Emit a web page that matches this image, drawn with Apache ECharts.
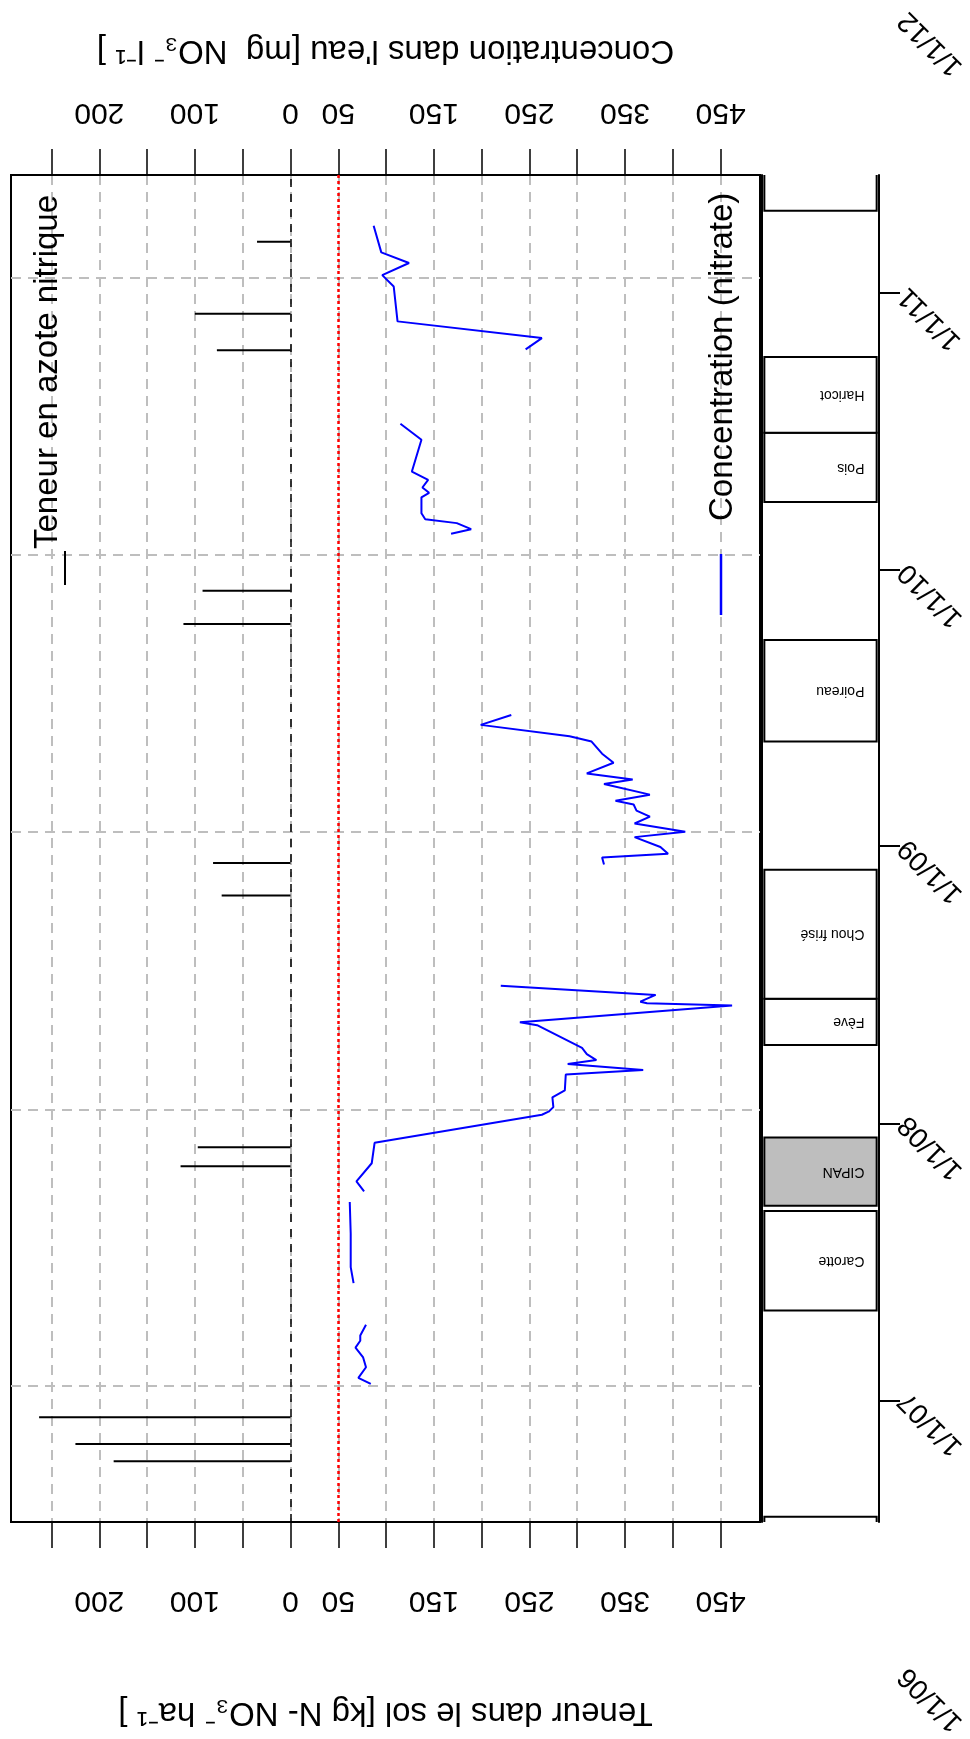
<!DOCTYPE html>
<html>
<head>
<meta charset="utf-8">
<title>Nitrate : sol et eau de drainage</title>
<script src="https://cdn.jsdelivr.net/npm/echarts@6.0.0/dist/echarts.min.js"></script>
<style>
  html, body { margin: 0; padding: 0; background: #fff; }
  #chart { width: 970px; height: 1739px; }
</style>
</head>
<body>
<div id="chart"></div>
<script>
// ---- Nitrate concentration in drainage water (mg NO3- / l), one pair of arrays per campaign
const concDates1 = ['2007-01-04','2007-01-12','2007-01-26','2007-02-08','2007-02-21','2007-03-02','2007-03-09','2007-03-23'];
const concValues1 = [84, 71, 79, 76, 68, 73, 73, 79];

const concDates2 = ['2007-05-17','2007-06-07','2007-07-21','2007-09-01'];
const concValues2 = [66, 63, 63, 62];

const concDates3 = ['2007-09-15','2007-09-28','2007-10-22','2007-11-18','2007-12-25','2007-12-29','2008-01-04','2008-01-17',
                    '2008-01-26','2008-02-16','2008-02-22','2008-03-01','2008-03-06','2008-03-14','2008-03-22','2008-04-21',
                    '2008-04-25','2008-05-17','2008-05-20','2008-05-22','2008-05-31','2008-06-12'];
const concValues3 = [77, 69, 85, 88, 263, 270, 275, 274,
                     287, 288, 369, 290, 320, 310, 305, 258,
                     240, 462, 373, 366, 382, 220];

const concDates4 = ['2008-11-19','2008-11-28','2008-12-03','2008-12-12','2008-12-25','2009-01-01','2009-01-12','2009-01-21',
                    '2009-01-29','2009-02-06','2009-02-11','2009-02-19','2009-03-05','2009-03-11','2009-03-19','2009-04-02',
                    '2009-04-14','2009-04-30','2009-05-07','2009-05-22','2009-06-04'];
const concValues4 = [328, 326, 395, 387, 360, 413, 360, 376,
                     362, 359, 340, 376, 328, 358, 310, 338,
                     326, 315, 292, 199, 231];

const concDates5 = ['2010-01-29','2010-02-04','2010-02-12','2010-02-17','2010-02-25','2010-03-18','2010-03-24','2010-03-31',
                    '2010-04-10','2010-04-21','2010-06-02','2010-06-23'];
const concValues5 = [168, 189, 174, 141, 137, 137, 145, 138, 144, 127, 137, 115];

const concDates6 = ['2010-09-29','2010-10-14','2010-11-05','2010-12-21','2011-01-05','2011-01-21','2011-02-04','2011-03-11'];
const concValues6 = [246, 263, 112, 108, 96, 124, 95, 87];

// ---- Soil nitrate content (kg N-NO3- / ha)
const soilDates = ['2006-09-24','2006-10-17','2006-11-21','2007-10-18','2007-11-12','2008-10-09',
                   '2008-11-21','2009-10-02','2009-11-15','2010-09-28','2010-11-15','2011-02-18'];
const soilValues = [185, 225, 263, 115, 97, 72, 81, 112, 92, 77, 100, 35];

// ---- Crop succession
const cropNames  = ['', 'Carotte', 'CIPAN', 'Fève', 'Chou frisé', 'Poireau', 'Pois', 'Haricot', ''];
const cropStarts = ['2006-03-01','2007-04-30','2007-09-15','2008-04-14','2008-06-14','2009-05-19','2010-03-31','2010-06-30','2011-04-19'];
const cropEnds   = ['2006-08-01','2007-09-08','2007-12-14','2008-06-14','2008-12-01','2009-09-30','2010-06-30','2010-10-08','2011-10-01'];
const cropIsCover = [false, false, true, false, false, false, false, false, false];

// ---- Axes
const valueTicks  = [-250, -200, -150, -100, -50, 0, 50, 100, 150, 200, 250, 300, 350, 400, 450];
const valueLabels = [-200, -100, 0, 50, 150, 250, 350, 450];
const yearTicks   = ['2007-01-01','2008-01-01','2009-01-01','2010-01-01','2011-01-01'];
const yearLabels  = ['2006-01-01','2007-01-01','2008-01-01','2009-01-01','2010-01-01','2011-01-01','2012-01-01'];
const valueMin = -292.4, valueMax = 491.2;
const plotStart = '2006-07-06', plotEnd = '2011-05-17';
const stripStart = '2006-07-25', stripEnd = '2011-06-05';
const guideLevel = 50;

const FONT = '"Liberation Sans", Arial, sans-serif';
const GRID_GRAY = '#bebebe';

// dates are handled as local-time millisecond values on plain value axes
const t = s => { const p = s.split('-').map(Number); return new Date(p[0], p[1] - 1, p[2]).getTime(); };
const fmtDate = v => { const d = new Date(v); return (d.getMonth() + 1) + '/' + d.getDate() + '/' + String(d.getFullYear()).slice(2); };

const campaigns = [
  [concDates1, concValues1], [concDates2, concValues2], [concDates3, concValues3],
  [concDates4, concValues4], [concDates5, concValues5], [concDates6, concValues6]
];

const lineSeries = campaigns.map(([dates, vals], k) => {
  const s = {
    type: 'line',
    xAxisIndex: 0, yAxisIndex: 0,
    data: dates.map((d, i) => [vals[i], t(d)]),
    showSymbol: false, symbol: 'none',
    lineStyle: { color: '#0000ff', width: 2 },
    z: 4, silent: true
  };
  if (k === 0) {
    // zero reference and the 50 mg/l guide
    s.markLine = {
      silent: true, symbol: 'none', label: { show: false }, z: 2,
      data: [
        { xAxis: 0, lineStyle: { color: '#000', type: [8, 7], width: 1.5 } },
        { xAxis: guideLevel, lineStyle: { color: '#ff0000', type: [3, 3], width: 2.5 } }
      ]
    };
  }
  return s;
});

const valueAxisBase = {
  gridIndex: 0, type: 'value', min: valueMin, max: valueMax,
  axisLine: { show: true, lineStyle: { color: '#000', width: 2 } },
  axisTick: { show: true, customValues: valueTicks, length: 26, lineStyle: { color: '#000', width: 1.5 } },
  axisLabel: {
    customValues: valueLabels, formatter: v => String(Math.abs(v)),
    rotate: 180, fontSize: 30, color: '#000', fontFamily: FONT
  },
  nameLocation: 'middle', nameRotate: 180,
  nameTextStyle: { fontSize: 33, color: '#000', fontFamily: FONT }
};

const hiddenParts = { axisLine: { show: false }, axisTick: { show: false }, axisLabel: { show: false }, splitLine: { show: false } };

const option = {
  animation: false,
  backgroundColor: '#fff',
  grid: [
    { left: 11, top: 175, width: 749, height: 1347, show: true, borderColor: '#000', borderWidth: 2, backgroundColor: 'transparent' },
    { left: 762, top: 175, width: 117, height: 1347 },
    { left: 762, top: 16.2, width: 117, height: 1661.6 }
  ],
  xAxis: [
    Object.assign({}, valueAxisBase, {
      position: 'top',
      axisLabel: Object.assign({}, valueAxisBase.axisLabel, { margin: 48 }),
      splitLine: { show: true, lineStyle: { color: GRID_GRAY, type: [10, 7], width: 2 } },
      name: "Concentration dans l'eau [mg  NO\u2083\u207B l\u207B\u00B9 ]",
      nameGap: 108
    }),
    Object.assign({}, valueAxisBase, {
      position: 'bottom',
      axisLabel: Object.assign({}, valueAxisBase.axisLabel, { margin: 63 }),
      splitLine: { show: false },
      name: 'Teneur dans le sol [kg N- NO\u2083\u207B ha\u207B\u00B9 ]',
      nameGap: 174
    }),
    Object.assign({ gridIndex: 1, type: 'value', min: 0, max: 1 }, hiddenParts),
    Object.assign({ gridIndex: 2, type: 'value', min: 0, max: 1 }, hiddenParts)
  ],
  yAxis: [
    {
      gridIndex: 0, type: 'value', min: t(plotStart), max: t(plotEnd),
      axisLine: { show: false },
      axisTick: { show: false, customValues: yearTicks.map(t) },
      axisLabel: { show: false },
      splitLine: { show: true, lineStyle: { color: GRID_GRAY, type: [10, 7], width: 2 } }
    },
    {
      gridIndex: 1, type: 'value', position: 'left', min: t(stripStart), max: t(stripEnd),
      axisLine: { show: true, lineStyle: { color: '#000', width: 2 } },
      axisTick: { show: false }, axisLabel: { show: false }, splitLine: { show: false }
    },
    {
      gridIndex: 1, type: 'value', position: 'right', min: t(stripStart), max: t(stripEnd),
      axisLine: { show: true, lineStyle: { color: '#000', width: 2 } },
      axisTick: { show: true, customValues: yearTicks.map(t), length: 21, lineStyle: { color: '#000', width: 2 } },
      axisLabel: { show: false }, splitLine: { show: false }
    },
    {
      gridIndex: 2, type: 'value', position: 'right', min: t(yearLabels[0]), max: t(yearLabels[yearLabels.length - 1]),
      axisLine: { show: false }, axisTick: { show: false }, splitLine: { show: false },
      axisLabel: {
        customValues: yearLabels.map(t), formatter: fmtDate,
        rotate: 135, align: 'right', verticalAlign: 'middle', margin: 24,
        fontSize: 28, color: '#000', fontFamily: FONT
      }
    }
  ],
  series: [
    {
      // soil nitrate: one horizontal stick per sampling date, drawn leftwards from zero
      type: 'custom',
      xAxisIndex: 0, yAxisIndex: 0,
      clip: true, silent: true, z: 3,
      data: soilDates.map((d, i) => [-soilValues[i], t(d)]),
      encode: { x: 0, y: 1 },
      renderItem: (params, api) => {
        const a = api.coord([0, api.value(1)]);
        const b = api.coord([api.value(0), api.value(1)]);
        return {
          type: 'line',
          shape: { x1: a[0], y1: a[1], x2: b[0], y2: b[1] },
          style: { stroke: '#000', lineWidth: 2 }
        };
      }
    },
    ...lineSeries,
    {
      type: 'custom',
      xAxisIndex: 2, yAxisIndex: 2,
      clip: true, silent: true,
      data: cropStarts.map((s, i) => [t(s), t(cropEnds[i]), i]),
      encode: { y: [0, 1] },
      renderItem: (params, api) => {
        const idx = api.value(2);
        const p1 = api.coord([0.02, api.value(1)]);
        const p0 = api.coord([0.98, api.value(0)]);
        const mid = api.coord([0.875, (api.value(0) + api.value(1)) / 2]);
        return {
          type: 'group',
          children: [
            {
              type: 'rect',
              shape: { x: p1[0], y: p1[1], width: p0[0] - p1[0], height: p0[1] - p1[1] },
              style: { fill: cropIsCover[idx] ? '#bebebe' : '#fff', stroke: '#000', lineWidth: 2 }
            },
            {
              type: 'text', x: mid[0], y: mid[1], rotation: Math.PI,
              style: { text: cropNames[idx], fill: '#000', fontSize: 14, fontFamily: FONT, align: 'left', verticalAlign: 'middle' }
            }
          ]
        };
      }
    }
  ],
  graphic: [
    {
      type: 'text', x: 48, y: 549, rotation: Math.PI / 2, z: 100,
      style: { text: 'Teneur en azote nitrique', fill: '#000', fontSize: 33, fontFamily: FONT, align: 'left', verticalAlign: 'middle' }
    },
    { type: 'line', z: 100, shape: { x1: 65, y1: 551, x2: 65, y2: 585 }, style: { stroke: '#000', lineWidth: 2 } },
    {
      type: 'text', x: 723, y: 521, rotation: Math.PI / 2, z: 100,
      style: { text: 'Concentration (nitrate)', fill: '#000', fontSize: 33, fontFamily: FONT, align: 'left', verticalAlign: 'middle' }
    },
    { type: 'line', z: 100, shape: { x1: 721, y1: 554, x2: 721, y2: 615 }, style: { stroke: '#0000ff', lineWidth: 2.5 } }
  ]
};

const chart = echarts.init(document.getElementById('chart'), null, { renderer: 'canvas', width: 970, height: 1739 });
chart.setOption(option);
</script>
</body>
</html>
